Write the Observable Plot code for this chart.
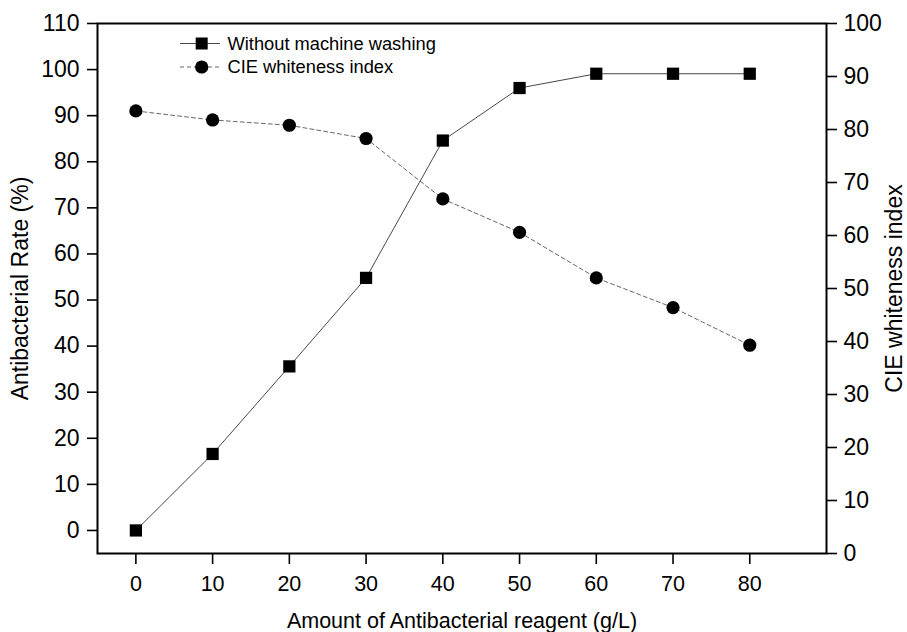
<!DOCTYPE html>
<html>
<head>
<meta charset="utf-8">
<script src="https://cdn.jsdelivr.net/npm/d3@7"></script>
<script src="https://cdn.jsdelivr.net/npm/@observablehq/plot@0.6"></script>
<style>
  html, body { margin: 0; padding: 0; background: #fff; }
  #chart { position: relative; width: 907px; height: 632px; }
</style>
</head>
<body>
<div id="chart"></div>
<script>
// Data
const amounts = [0, 10, 20, 30, 40, 50, 60, 70, 80];
const antibacterialRate = [0, 16.6, 35.6, 54.8, 84.6, 96.0, 99.1, 99.1, 99.1];
const whitenessIndex = [83.5, 81.8, 80.8, 78.3, 66.9, 60.6, 52.0, 46.4, 39.3];
const xTicks = [0, 10, 20, 30, 40, 50, 60, 70, 80];
const leftTicks = [0, 10, 20, 30, 40, 50, 60, 70, 80, 90, 100, 110];
const rightTicks = [0, 10, 20, 30, 40, 50, 60, 70, 80, 90, 100];
const seriesNames = ["Without machine washing", "CIE whiteness index"];

// right axis [0,100] mapped onto left domain [-5,110]
const toLeft = d3.scaleLinear([0, 100], [-5, 110]);
const toRight = toLeft.invert;

const rateData = amounts.map((x, i) => ({x, y: antibacterialRate[i]}));
const whiteData = amounts.map((x, i) => ({x, y: toLeft(whitenessIndex[i])}));

const font = "'Liberation Sans', Arial, Helvetica, sans-serif";
const fs = 23;
const fsx = 21.5;

const chart = Plot.plot({
  width: 907,
  height: 632,
  marginLeft: 97,
  marginRight: 81,
  marginTop: 23,
  marginBottom: 79,
  style: {fontFamily: font, fontSize: fs + "px", color: "#000", background: "#fff"},
  x: {domain: [-5, 90]},
  y: {domain: [-5, 110]},
  marks: [
    Plot.axisX(xTicks, {
      tickSize: 11, tickPadding: 11, strokeWidth: 1.6,
      label: "Amount of Antibacterial reagent (g/L)", labelAnchor: "center", labelArrow: "none", labelOffset: 74,
      fontSize: fsx
    }),
    Plot.axisY(leftTicks, {
      anchor: "left", tickSize: 10, tickPadding: 8, strokeWidth: 1.6,
      label: "Antibacterial Rate (%)", labelAnchor: "center", labelArrow: "none", labelOffset: 86,
      fontSize: fs
    }),
    Plot.axisY(rightTicks.map(toLeft), {
      anchor: "right", tickSize: 10, tickPadding: 7, strokeWidth: 1.6,
      tickFormat: d => String(Math.round(toRight(d))),
      label: "CIE whiteness index", labelAnchor: "center", labelArrow: "none", labelOffset: 75,
      fontSize: fs
    }),
    Plot.frame({stroke: "#000", strokeWidth: 2}),
    Plot.line(rateData, {x: "x", y: "y", stroke: "#333", strokeWidth: 0.9}),
    Plot.line(whiteData, {x: "x", y: "y", stroke: "#555", strokeWidth: 0.9, strokeDasharray: "4,3"}),
    Plot.dot(rateData, {x: "x", y: "y", symbol: "square", r: 6.9, fill: "#000", stroke: "none"}),
    Plot.dot(whiteData, {x: "x", y: "y", symbol: "circle", r: 6.6, fill: "#000", stroke: "none"})
  ]
});

document.getElementById("chart").appendChild(chart);

// Legend (inside plot area, top-left)
const svg = d3.select(chart);
const legend = svg.append("g").attr("transform", "translate(180,43.5)")
  .attr("font-family", font).attr("font-size", 18.3).attr("text-anchor", "start");
seriesNames.forEach((name, i) => {
  const g = legend.append("g").attr("transform", `translate(0,${i * 23.5})`);
  g.append("line").attr("x1", 0).attr("x2", 40).attr("y1", 0).attr("y2", 0)
    .attr("stroke", i === 0 ? "#333" : "#555").attr("stroke-width", 0.9)
    .attr("stroke-dasharray", i === 0 ? null : "4,3");
  if (i === 0) {
    g.append("rect").attr("x", 21.7 - 6).attr("y", -6).attr("width", 12).attr("height", 12).attr("fill", "#000");
  } else {
    g.append("circle").attr("cx", 21.7).attr("cy", 0).attr("r", 6.6).attr("fill", "#000");
  }
  g.append("text").attr("x", 47.5).attr("y", 0).attr("dy", "0.35em").attr("text-anchor", "start").text(name);
});
</script>
</body>
</html>
